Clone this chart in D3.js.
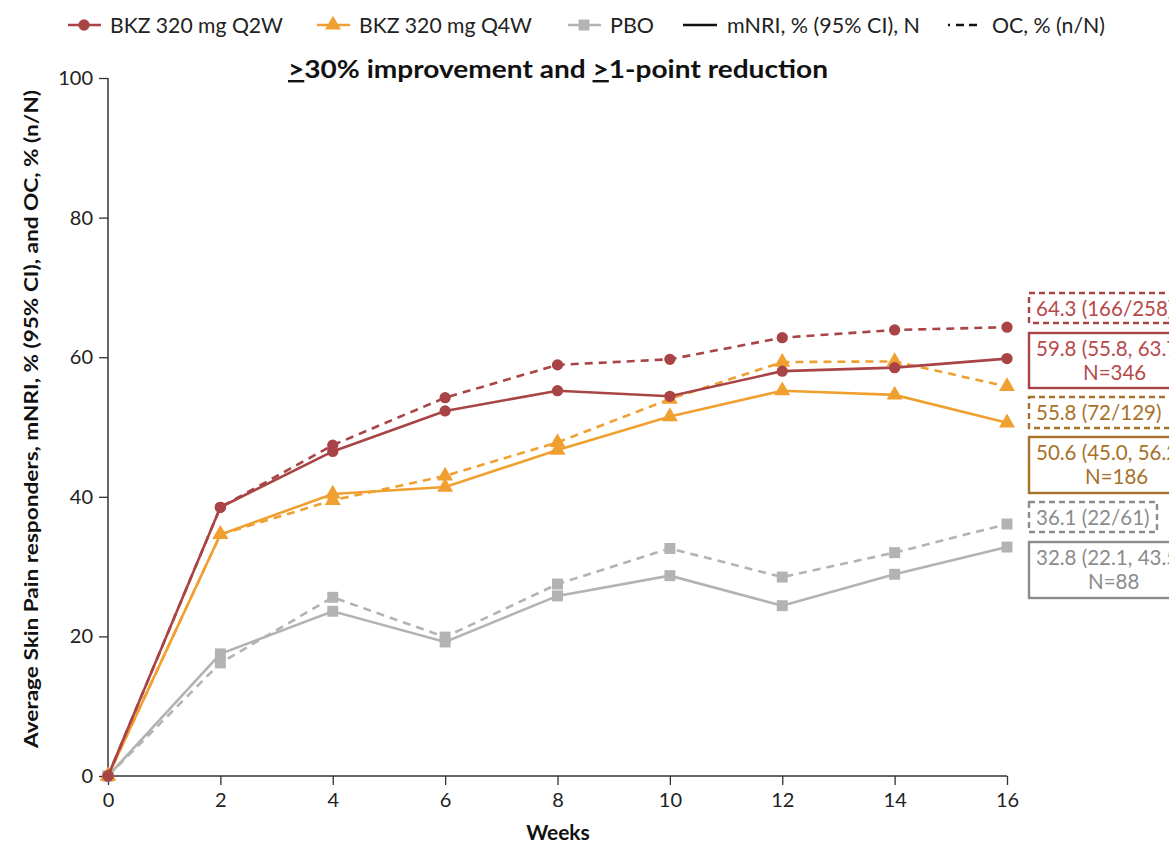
<!DOCTYPE html>
<html>
<head>
<meta charset="utf-8">
<script src="https://cdn.jsdelivr.net/npm/d3@7"></script>
<style>
  body { margin: 0; background: #fff; }
  svg { font-family: Lato, "Open Sans", sans-serif; }
</style>
</head>
<body>
<svg width="1169" height="844"></svg>
<script>
'use strict';

const weeks = [0, 2, 4, 6, 8, 10, 12, 14, 16]
const yTicks = [0, 20, 40, 60, 80, 100]

// mNRI (solid) and OC (dashed) per arm
const q2wNri = [0, 38.5, 46.5, 52.3, 55.2, 54.4, 58.0, 58.5, 59.8]
const q2wOc = [0, 38.5, 47.4, 54.2, 58.9, 59.7, 62.8, 63.9, 64.3]
const q4wNri = [0, 34.6, 40.4, 41.4, 46.7, 51.5, 55.2, 54.6, 50.6]
const q4wOc = [0, 34.6, 39.5, 43.0, 47.8, 54.0, 59.3, 59.4, 55.8]
const pboNri = [0, 17.5, 23.6, 19.2, 25.8, 28.7, 24.4, 28.9, 32.8]
const pboOc = [0, 16.2, 25.6, 19.9, 27.5, 32.6, 28.5, 32.0, 36.1]

const armNames = ['BKZ 320 mg Q2W', 'BKZ 320 mg Q4W', 'PBO']
const endLabels = [
  ['64.3 (166/258)'], ['59.8 (55.8, 63.7)', 'N=346'],
  ['55.8 (72/129)'], ['50.6 (45.0, 56.2)', 'N=186'],
  ['36.1 (22/61)'], ['32.8 (22.1, 43.5)', 'N=88']
]

const svg = d3.select('svg')
const margin = {top: 78, left: 108, right: 162, bottom: 68}
const width = 1169 - margin.left - margin.right
const height = 844 - margin.top - margin.bottom

const x = d3.scaleLinear().domain([0, 16]).range([0, width])
const y = d3.scaleLinear().domain([0, 100]).range([height, 0])

const g = svg.append('g').attr('transform', 'translate(' + margin.left + ',' + margin.top + ')')

const xAxis = g.append('g')
  .attr('transform', 'translate(0,' + height + ')')
  .call(d3.axisBottom(x).tickValues(weeks).tickSize(9).tickPadding(8))
const yAxis = g.append('g')
  .call(d3.axisLeft(y).tickValues(yTicks).tickSize(9).tickPadding(6))
;[xAxis, yAxis].forEach((a) => {
  a.select('.domain').attr('stroke', '#333').attr('stroke-width', 1.5)
  a.selectAll('.tick line').attr('stroke', '#333').attr('stroke-width', 1.3)
  a.selectAll('.tick text').attr('font-size', 20).attr('fill', '#222').attr('font-family', 'Lato, sans-serif')
})
xAxis.select('.domain').attr('d', 'M0,0H' + width)
yAxis.select('.domain').attr('d', 'M0,0V' + height)

const arms = [
  {name: armNames[0], color: '#a94446', symbol: d3.symbolCircle, size: 100, nri: q2wNri, oc: q2wOc},
  {name: armNames[1], color: '#f0a030', symbol: d3.symbolTriangle, size: 110, nri: q4wNri, oc: q4wOc},
  {name: armNames[2], color: '#b3b3b3', symbol: d3.symbolSquare, size: 120, nri: pboNri, oc: pboOc}
]

const line = d3.line().x((d, i) => x(weeks[i])).y((d) => y(d))

// draw back to front: placebo first
arms.slice().reverse().forEach((arm) => {
  const sym = d3.symbol().type(arm.symbol).size(arm.size)
  ;[{vals: arm.oc, dash: '8,6'}, {vals: arm.nri, dash: null}].forEach((s) => {
    g.append('path')
      .attr('d', line(s.vals))
      .attr('fill', 'none')
      .attr('stroke', arm.color)
      .attr('stroke-width', 2.6)
      .attr('stroke-dasharray', s.dash)
    g.selectAll(null).data(s.vals).enter().append('path')
      .attr('d', sym)
      .attr('fill', arm.color)
      .attr('transform', (d, i) => 'translate(' + x(weeks[i]) + ',' + y(d) + ')')
  })
})

// end-of-line labels
const boxStyle = [
  {text: '#b8494b', border: '#a94446', dash: '6,4', top: 293, h: 30, w: 170},
  {text: '#b8494b', border: '#a94446', dash: null, top: 333, h: 55, w: 170},
  {text: '#a8712a', border: '#a8712a', dash: '6,4', top: 397, h: 31, w: 170},
  {text: '#a8712a', border: '#a8712a', dash: null, top: 437, h: 56, w: 170},
  {text: '#8c8c8c', border: '#8c8c8c', dash: '6,4', top: 502, h: 30, w: 128},
  {text: '#8c8c8c', border: '#8c8c8c', dash: null, top: 542, h: 56, w: 170}
]
const secondLineX = [0, 1083, 0, 1085, 0, 1088]
endLabels.forEach((lines, i) => {
  const b = boxStyle[i]
  const bx = 1029
  svg.append('rect')
    .attr('x', bx).attr('y', b.top).attr('width', b.w).attr('height', b.h)
    .attr('fill', '#fff').attr('stroke', b.border).attr('stroke-width', 2.4)
    .attr('stroke-dasharray', b.dash)
  lines.forEach((t, j) => {
    svg.append('text')
      .attr('x', j === 0 ? bx + 7 : secondLineX[i])
      .attr('y', b.top + 23 + j * 24)
      .attr('font-size', 20.5)
      .attr('fill', b.text)
      .text(t)
  })
})

// title with underlined "≥"
const title = svg.append('text')
  .attr('x', 288).attr('y', 78)
  .attr('font-size', 24).attr('font-weight', 'bold').attr('fill', '#111')
  .attr('textLength', 540).attr('lengthAdjust', 'spacingAndGlyphs')
title.append('tspan').attr('text-decoration', 'underline').text('>')
title.append('tspan').text('30% improvement and ')
title.append('tspan').attr('text-decoration', 'underline').text('>')
title.append('tspan').text('1-point reduction')

// axis titles
svg.append('text')
  .attr('x', 558).attr('y', 840)
  .attr('text-anchor', 'middle')
  .attr('font-size', 21).attr('font-weight', 'bold').attr('fill', '#111')
  .text('Weeks')
svg.append('text')
  .attr('transform', 'translate(38,419) rotate(-90)')
  .attr('text-anchor', 'middle')
  .attr('font-size', 19).attr('font-weight', 'bold').attr('fill', '#111')
  .attr('textLength', 658).attr('lengthAdjust', 'spacingAndGlyphs')
  .text('Average Skin Pain responders, mNRI, % (95% CI), and OC, % (n/N)')

// legend
const legend = svg.append('g').attr('font-size', 21).attr('fill', '#222')
const legX = [68, 317, 568]
const legTextLen = [173, 173, 44]
arms.forEach((arm, i) => {
  const lg = legend.append('g').attr('transform', 'translate(' + legX[i] + ',25)')
  lg.append('line').attr('x1', 0).attr('x2', 33).attr('stroke', arm.color).attr('stroke-width', 2.6)
  lg.append('path').attr('d', d3.symbol().type(arm.symbol).size(arm.size)()).attr('transform', 'translate(16,0)').attr('fill', arm.color)
  lg.append('text').attr('x', 42).attr('y', 8)
    .attr('textLength', legTextLen[i]).attr('lengthAdjust', 'spacingAndGlyphs')
    .text(arm.name)
})
const l4 = legend.append('g').attr('transform', 'translate(683,25)')
l4.append('line').attr('x1', 0).attr('x2', 34).attr('stroke', '#111').attr('stroke-width', 2.4)
l4.append('text').attr('x', 44).attr('y', 8)
  .attr('textLength', 193).attr('lengthAdjust', 'spacingAndGlyphs')
  .text('mNRI, % (95% CI), N')
const l5 = legend.append('g').attr('transform', 'translate(948,25)')
l5.append('line').attr('x1', 0).attr('x2', 34).attr('stroke', '#111').attr('stroke-width', 2.4).attr('stroke-dasharray', '2,6,8,5,8,5')
l5.append('text').attr('x', 44).attr('y', 8)
  .attr('textLength', 113).attr('lengthAdjust', 'spacingAndGlyphs')
  .text('OC, % (n/N)')
</script>
</body>
</html>
